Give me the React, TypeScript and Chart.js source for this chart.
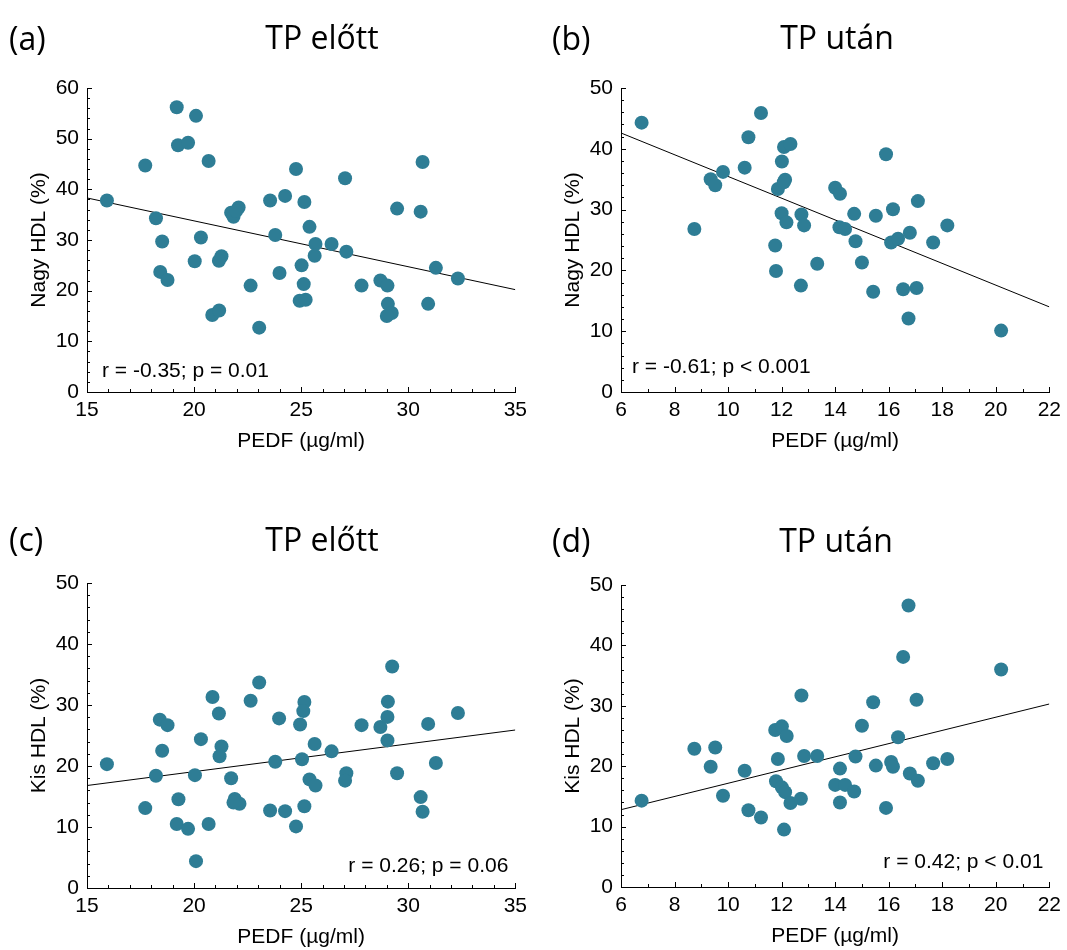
import React, { useEffect, useRef } from 'react';
import { Chart, registerables } from 'chart.js';
Chart.register(...registerables);

// ---- Data ----
const pedfA = [15.93,17.72,19.19,20.09,19.25,19.72,20.68,18.22,18.51,18.42,18.76,20.32,20.03,21.28,21.16,20.85,21.17,21.73,21.84,22.08,21.96,22.64,23.04,23.55,23.79,23.99,24.25,24.76,25.15,25.02,25.12,24.93,25.21,25.39,25.67,25.63,26.42,27.05,27.11,27.82,28.7,29.03,29.05,29.23,29.0,29.48,30.67,30.58,30.93,31.29,32.32];
const largeHdlA = [37.8,44.7,56.2,54.5,48.7,49.2,45.6,34.3,29.7,23.7,22.1,30.5,25.8,26.8,25.9,15.2,16.1,35.4,34.6,36.4,35.7,21.0,12.7,37.8,31.0,23.5,38.7,44.0,37.5,25.0,21.3,18.0,18.2,32.6,29.2,26.9,29.2,42.2,27.7,21.0,22.0,21.0,17.4,15.6,15.0,36.2,45.4,35.6,17.4,24.5,22.4];

const pedfB = [6.77,8.74,9.35,9.52,9.81,10.62,10.76,11.23,11.76,11.79,11.86,12.01,12.09,12.33,12.13,12.08,12.0,12.18,12.74,12.84,12.72,13.33,14.0,14.18,14.16,14.37,14.71,14.76,15.0,15.42,15.52,15.9,16.16,16.09,16.35,16.54,16.74,16.79,17.04,17.09,17.66,18.19,20.2];
const largeHdlB = [44.3,26.8,35.0,34.0,36.2,36.9,41.9,45.9,24.1,19.9,33.4,37.9,40.3,40.8,34.9,34.5,29.4,27.9,29.2,27.4,17.5,21.1,33.6,32.6,27.1,26.8,29.3,24.8,21.3,16.5,29.0,39.1,30.05,24.6,25.2,16.9,12.1,26.2,17.1,31.4,24.6,27.4,10.1];

const pedfC = [15.93,17.72,18.22,18.40,18.76,18.51,19.27,19.19,19.72,20.09,20.04,20.32,20.68,20.86,21.16,21.28,21.19,21.73,21.9,22.12,21.84,22.64,23.04,23.55,23.79,23.97,24.25,24.76,24.95,25.15,25.1,25.04,25.15,25.39,25.67,25.63,26.42,27.11,27.05,27.82,28.7,29.03,29.05,29.25,29.03,29.48,30.93,31.29,30.58,30.67,32.32];
const smallHdlC = [20.3,13.1,18.4,27.6,26.7,22.5,14.55,10.5,9.7,4.4,18.5,24.4,10.5,31.3,28.6,23.2,21.6,18.0,14.6,13.8,14.0,30.7,33.7,12.7,20.7,27.8,12.6,10.1,26.8,30.5,29.0,21.1,13.4,17.8,16.8,23.6,22.4,18.8,17.6,26.7,26.4,28.05,30.55,36.3,24.2,18.8,26.9,20.5,14.9,12.5,28.7];

const pedfD = [6.77,8.74,9.35,9.52,9.81,10.62,10.76,11.23,11.76,11.79,11.86,12.01,12.09,12.19,12.01,12.13,12.33,12.74,12.84,12.72,13.33,14.0,14.18,14.18,14.37,14.71,14.76,15.0,15.42,15.52,15.9,16.09,16.16,16.35,16.54,16.74,16.79,17.04,17.09,17.66,18.19,20.2];
const smallHdlD = [14.3,22.9,19.9,23.1,15.1,19.25,12.7,11.5,26.0,17.5,21.2,26.6,9.5,25.0,16.5,15.7,13.9,31.7,21.7,14.6,21.7,16.9,19.6,14.0,16.9,15.8,21.6,26.7,30.6,20.1,13.1,20.7,19.9,24.8,38.1,46.6,18.8,31.0,17.6,20.5,21.2,36.0];

// regression line values at the x-axis min and max
const trendA = [38.3, 20.2];
const trendB = [42.6, 14.0];
const trendC = [16.8, 25.9];
const trendD = [12.8, 30.3];

const xRangeBefore = [15, 35];
const xRangeAfter = [6, 22];
const yRangeLarge = [0, 60];
const yRangeOther = [0, 50];

const titles = ['TP előtt', 'TP után', 'TP előtt', 'TP után'];
const panelLabels = ['(a)', '(b)', '(c)', '(d)'];
const yTitles = ['Nagy HDL (%)', 'Nagy HDL (%)', 'Kis HDL (%)', 'Kis HDL (%)'];
const xTitle = 'PEDF (µg/ml)';
const stats = ['r = -0.35; p = 0.01', 'r = -0.61; p < 0.001', 'r = 0.26; p = 0.06', 'r = 0.42; p < 0.01'];

const DOT = '#2E7D95';
const TICK_FONT = '"Liberation Sans", Arial, sans-serif';
const TITLE_FONT = '"Open Sans", sans-serif';

type PanelCfg = {
  left: number; top: number; w: number; h: number;
  area: { l: number; t: number; r: number; b: number };
  xs: number[]; ys: number[]; trend: number[];
  xRange: number[]; yRange: number[];
  xStep: number; yStep: number; xMinor: number; yMinor: number;
  idx: number;
  titleX: number; titleY: number; labelX: number; labelY: number;
  statAlign: 'left' | 'right'; statDx: number; statDy: number;
};

const overlayPlugin = {
  id: 'overlay',
  afterDraw(chart: any, _args: any, o: any) {
    const { ctx, chartArea: ca, scales } = chart;
    const xs = scales.x, ys = scales.y;
    ctx.save();
    ctx.strokeStyle = '#000';
    ctx.lineWidth = 1;
    ctx.beginPath();
    const eps = 1e-6;
    for (let v = xs.min; v <= xs.max + eps; v += o.xMinor) {
      const major = Math.abs((v - xs.min) / o.xStep - Math.round((v - xs.min) / o.xStep)) < 1e-6;
      const px = Math.round(xs.getPixelForValue(v)) + 0.5;
      ctx.moveTo(px, ca.bottom);
      ctx.lineTo(px, ca.bottom - (major ? 5 : 3));
    }
    for (let v = ys.min; v <= ys.max + eps; v += o.yMinor) {
      const major = Math.abs((v - ys.min) / o.yStep - Math.round((v - ys.min) / o.yStep)) < 1e-6;
      const py = Math.round(ys.getPixelForValue(v)) + 0.5;
      ctx.moveTo(ca.left, py);
      ctx.lineTo(ca.left + (major ? 5 : 3), py);
    }
    ctx.stroke();

    ctx.fillStyle = '#000';
    // title
    ctx.font = `32px ${TITLE_FONT}`;
    ctx.textAlign = 'center';
    ctx.textBaseline = 'alphabetic';
    ctx.fillText(o.title, o.titleX, o.titleY);
    ctx.textAlign = 'left';
    ctx.fillText(o.label, o.labelX, o.labelY);

    // axis titles
    ctx.font = `21px ${TICK_FONT}`;
    ctx.textAlign = 'center';
    ctx.textBaseline = 'middle';
    ctx.fillText(o.xTitle, (ca.left + ca.right) / 2, ca.bottom + 49);
    ctx.save();
    ctx.translate(ca.left - 48, (ca.top + ca.bottom) / 2);
    ctx.rotate(-Math.PI / 2);
    ctx.fillText(o.yTitle, 0, 0);
    ctx.restore();

    // stats
    ctx.textBaseline = 'alphabetic';
    ctx.textAlign = o.statAlign;
    const sx = o.statAlign === 'left' ? ca.left + o.statDx : ca.right - o.statDx;
    ctx.fillText(o.stat, sx, ca.bottom - o.statDy);
    ctx.restore();
  },
};

function Panel({ cfg }: { cfg: PanelCfg }) {
  const ref = useRef<HTMLCanvasElement | null>(null);
  useEffect(() => {
    if (!ref.current) return;
    const points = cfg.xs.map((x, i) => ({ x, y: cfg.ys[i] }));
    const line = [
      { x: cfg.xRange[0], y: cfg.trend[0] },
      { x: cfg.xRange[1], y: cfg.trend[1] },
    ];
    const yW = cfg.area.l;
    const xH = cfg.h - cfg.area.b;
    const chart = new Chart(ref.current, {
      type: 'scatter',
      data: {
        datasets: [
          {
            type: 'line',
            data: line,
            borderColor: '#000',
            borderWidth: 1,
            pointRadius: 0,
            showLine: true,
            fill: false,
            order: 2,
          } as any,
          {
            data: points,
            backgroundColor: DOT,
            borderColor: DOT,
            borderWidth: 0,
            pointRadius: 7,
            pointHoverRadius: 7,
            order: 1,
          },
        ],
      },
      options: {
        animation: false,
        responsive: false,
        maintainAspectRatio: false,
        events: [],
        layout: { padding: { left: 0, top: cfg.area.t, right: cfg.w - cfg.area.r, bottom: 0 } },
        plugins: {
          legend: { display: false },
          tooltip: { enabled: false },
          overlay: {
            xStep: cfg.xStep, yStep: cfg.yStep, xMinor: cfg.xMinor, yMinor: cfg.yMinor,
            title: titles[cfg.idx], label: panelLabels[cfg.idx],
            titleX: cfg.titleX, titleY: cfg.titleY, labelX: cfg.labelX, labelY: cfg.labelY,
            xTitle, yTitle: yTitles[cfg.idx], stat: stats[cfg.idx],
            statAlign: cfg.statAlign, statDx: cfg.statDx, statDy: cfg.statDy,
          },
        } as any,
        scales: {
          x: {
            type: 'linear',
            min: cfg.xRange[0],
            max: cfg.xRange[1],
            grid: { display: false, drawTicks: false },
            border: { display: true, color: '#000', width: 1 },
            ticks: { stepSize: cfg.xStep, color: '#000', font: { family: TICK_FONT, size: 21 }, padding: 6, maxRotation: 0 },
            afterFit: (s: any) => { s.height = xH; },
          },
          y: {
            type: 'linear',
            min: cfg.yRange[0],
            max: cfg.yRange[1],
            grid: { display: false, drawTicks: false },
            border: { display: true, color: '#000', width: 1 },
            ticks: { stepSize: cfg.yStep, color: '#000', font: { family: TICK_FONT, size: 21 }, padding: 8 },
            afterFit: (s: any) => { s.width = yW; },
          },
        },
      },
      plugins: [overlayPlugin],
    });
    return () => chart.destroy();
  }, [cfg]);
  return (
    <canvas
      ref={ref}
      width={cfg.w}
      height={cfg.h}
      style={{ position: 'absolute', left: cfg.left, top: cfg.top, width: cfg.w, height: cfg.h }}
    />
  );
}

const panels: PanelCfg[] = [
  {
    left: 0, top: 0, w: 533, h: 475, area: { l: 87, t: 88, r: 518, b: 392 },
    xs: pedfA, ys: largeHdlA, trend: trendA, xRange: xRangeBefore, yRange: yRangeLarge,
    xStep: 5, yStep: 10, xMinor: 1, yMinor: 2, idx: 0,
    titleX: 322, titleY: 49, labelX: 9, labelY: 50,
    statAlign: 'left', statDx: 15, statDy: 15,
  },
  {
    left: 534, top: 0, w: 533, h: 475, area: { l: 87, t: 88, r: 519, b: 392 },
    xs: pedfB, ys: largeHdlB, trend: trendB, xRange: xRangeAfter, yRange: yRangeOther,
    xStep: 2, yStep: 10, xMinor: 1, yMinor: 2, idx: 1,
    titleX: 303, titleY: 49, labelX: 18, labelY: 50,
    statAlign: 'left', statDx: 11, statDy: 19,
  },
  {
    left: 0, top: 475, w: 533, h: 475, area: { l: 87, t: 108, r: 518, b: 413 },
    xs: pedfC, ys: smallHdlC, trend: trendC, xRange: xRangeBefore, yRange: yRangeOther,
    xStep: 5, yStep: 10, xMinor: 1, yMinor: 2, idx: 2,
    titleX: 322, titleY: 76, labelX: 9, labelY: 76,
    statAlign: 'right', statDx: 7, statDy: 16,
  },
  {
    left: 534, top: 475, w: 533, h: 475, area: { l: 87, t: 110, r: 519, b: 412 },
    xs: pedfD, ys: smallHdlD, trend: trendD, xRange: xRangeAfter, yRange: yRangeOther,
    xStep: 2, yStep: 10, xMinor: 1, yMinor: 2, idx: 3,
    titleX: 302, titleY: 77, labelX: 18, labelY: 77,
    statAlign: 'right', statDx: 6, statDy: 19,
  },
];

export default function App() {
  return (
    <div style={{ position: 'absolute', left: 0, top: 0, width: 1067, height: 950, background: '#fff', overflow: 'hidden' }}>
      {panels.map((p, i) => (
        <Panel key={i} cfg={p} />
      ))}
    </div>
  );
}
